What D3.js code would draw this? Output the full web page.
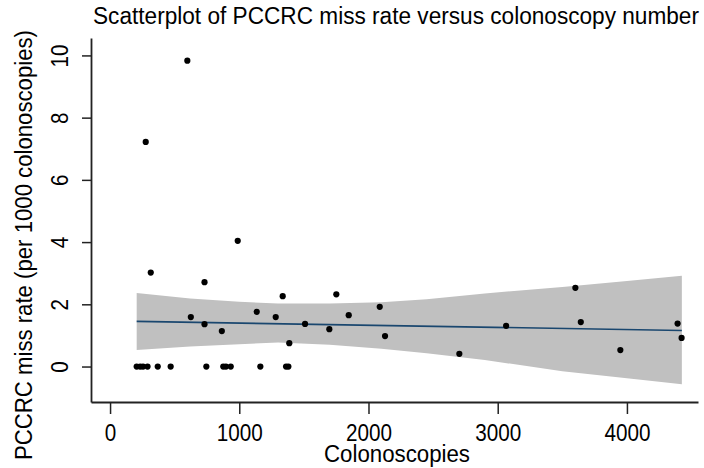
<html>
<head>
<meta charset="utf-8">
<script src="https://cdnjs.cloudflare.com/ajax/libs/d3/7.8.5/d3.min.js"></script>
<style>
  body { margin: 0; background: #fff; }
  text { font-family: Arial, "Liberation Sans", sans-serif; fill: #000; }
</style>
</head>
<body>
<div id="chart"></div>
<script>

// colonoscopies per endoscopist and PCCRC miss rate (per 1000)
var colonoscopies = [206, 233, 255, 290, 369, 469, 745, 876, 897, 934, 1163, 1362, 1380,
                     276, 315, 598, 625, 731, 731, 865, 988, 1135, 1282, 1336, 1387,
                     1509, 1697, 1751, 1847, 2087, 2128, 2703, 3065, 3601, 3643, 3949, 4392, 4423];
var missRate = [0, 0, 0, 0, 0, 0, 0, 0, 0, 0, 0, 0, 0,
                7.22, 3.02, 9.83, 1.59, 2.71, 1.36, 1.14, 4.04, 1.76, 1.59, 2.26, 0.75,
                1.37, 1.20, 2.32, 1.65, 1.92, 0.98, 0.41, 1.31, 2.53, 1.43, 0.53, 1.38, 0.92];

// fitted line and its confidence band
var fitX = [206, 4425];
var fitY = [1.45, 1.16];
var bandX  = [206, 620, 1000, 1300, 1700, 2100, 2450, 2900, 3500, 4000, 4425];
var bandLo = [0.53, 0.64, 0.72, 0.77, 0.70, 0.57, 0.43, 0.21, -0.15, -0.38, -0.57];
var bandHi = [2.36, 2.19, 2.08, 2.03, 2.03, 2.07, 2.16, 2.35, 2.56, 2.75, 2.92];

var xTicks = [0, 1000, 2000, 3000, 4000];
var yTicks = [0, 2, 4, 6, 8, 10];

var W = 704, H = 468;

var svg = d3.select("#chart").append("svg")
	.attr("width", W)
	.attr("height", H);

var x = d3.scaleLinear().domain([-147.5, 4550]).range([91, 698]);
var y = d3.scaleLinear().domain([-1.14, 10.56]).range([402, 38]);

// band
var band = bandX.map(function(d, i){ return {x: d, lo: bandLo[i], hi: bandHi[i]}; });
svg.append("path")
	.datum(band)
	.attr("fill", "#c0c0c0")
	.attr("d", d3.area()
		.x(function(d){ return x(d.x); })
		.y0(function(d){ return y(d.lo); })
		.y1(function(d){ return y(d.hi); }));

// fitted line
svg.append("path")
	.datum(fitX.map(function(d, i){ return [d, fitY[i]]; }))
	.attr("fill", "none")
	.attr("stroke", "#1a476f")
	.attr("stroke-width", 1.6)
	.attr("d", d3.line()
		.x(function(d){ return x(d[0]); })
		.y(function(d){ return y(d[1]); }));

// points
svg.append("g")
	.selectAll("circle")
	.data(colonoscopies)
	.enter()
	.append("circle")
	.attr("cx", function(d){ return x(d); })
	.attr("cy", function(d, i){ return y(missRate[i]); })
	.attr("r", 3.1)
	.attr("fill", "#000");

// axes
var xAxis = svg.append("g")
	.attr("transform", "translate(0," + 402 + ")")
	.call(d3.axisBottom(x).tickValues(xTicks).tickFormat(d3.format("d")).tickSize(12).tickSizeOuter(0));
xAxis.selectAll("text")
	.attr("y", 39)
	.attr("dy", 0)
	.attr("textLength", function(d){ return String(d).length * 11.5; })
	.attr("lengthAdjust", "spacingAndGlyphs");

var yAxis = svg.append("g")
	.attr("transform", "translate(" + 91 + ",0)")
	.call(d3.axisLeft(y).tickValues(yTicks).tickFormat(d3.format("d")).tickSize(9).tickSizeOuter(0));
yAxis.selectAll(".tick text")
	.attr("transform", "rotate(-90)")
	.attr("x", 0)
	.attr("y", -23)
	.attr("dy", 0)
	.attr("text-anchor", "middle")
	.attr("textLength", function(d){ return String(d).length * 11.5; })
	.attr("lengthAdjust", "spacingAndGlyphs");

[xAxis, yAxis].forEach(function(a){
	a.selectAll("text").style("font-size", "23px").style("font-family", "Arial, 'Liberation Sans', sans-serif").attr("fill", "#000");
	a.selectAll("line").attr("stroke", "#222").attr("stroke-width", 1.5);
	a.select(".domain").attr("stroke", "#222").attr("stroke-width", 1.8);
});

// titles
svg.append("text")
	.attr("x", 396)
	.attr("y", 24)
	.attr("text-anchor", "middle")
	.attr("textLength", 606)
	.attr("lengthAdjust", "spacingAndGlyphs")
	.style("font-size", "23px")
	.text("Scatterplot of PCCRC miss rate versus colonoscopy number");

svg.append("text")
	.attr("x", 397)
	.attr("y", 462)
	.attr("text-anchor", "middle")
	.attr("textLength", 146)
	.attr("lengthAdjust", "spacingAndGlyphs")
	.style("font-size", "23px")
	.text("Colonoscopies");

svg.append("text")
	.attr("transform", "translate(32,245) rotate(-90)")
	.attr("text-anchor", "middle")
	.attr("textLength", 430)
	.attr("lengthAdjust", "spacingAndGlyphs")
	.style("font-size", "23px")
	.text("PCCRC miss rate (per 1000 colonoscopies)");

</script>
</body>
</html>
